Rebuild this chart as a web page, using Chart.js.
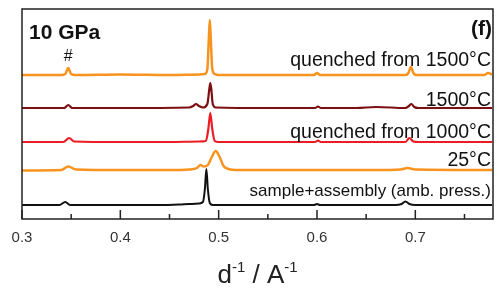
<!DOCTYPE html>
<html>
<head>
<meta charset="utf-8">
<script src="https://cdn.jsdelivr.net/npm/chart.js"></script>
<style>
  html, body { margin: 0; padding: 0; background: #fff; }
  #wrap { width: 497px; height: 290px; }
</style>
</head>
<body>
<div id="wrap"><canvas id="myChart" width="497" height="290"></canvas></div>
<script>
// d^-1 positions (1/A) and stacked intensities (offset already included)
const q1500X = [0.300, 0.340, 0.344, 0.347, 0.350, 0.354, 0.400, 0.450, 0.480, 0.486, 0.4885, 0.4900, 0.4910, 0.4920, 0.4935, 0.496, 0.500, 0.550, 0.597, 0.600, 0.603, 0.650, 0.690, 0.693, 0.6955, 0.698, 0.701, 0.740, 0.770, 0.774, 0.778];
const q1500Y = [144, 144, 145, 151, 145, 144, 144.5, 144, 144.5, 145, 150, 180, 199, 180, 150, 145, 144, 144, 144, 146, 144, 144, 144, 146, 152, 146, 144, 144, 144, 146, 144.5];

const t1500X = [0.300, 0.343, 0.347, 0.351, 0.400, 0.470, 0.474, 0.477, 0.480, 0.484, 0.4885, 0.4905, 0.4915, 0.4925, 0.494, 0.497, 0.550, 0.598, 0.601, 0.604, 0.640, 0.660, 0.690, 0.6935, 0.696, 0.699, 0.703, 0.778];
const t1500Y = [111, 111, 114, 111, 111, 111.5, 113, 115, 113, 111.5, 115, 130, 136, 130, 115, 111.5, 111, 111, 112.5, 111, 111, 112, 111, 113, 115, 112, 111, 111];

const q1000X = [0.300, 0.342, 0.348, 0.353, 0.400, 0.450, 0.480, 0.487, 0.4895, 0.4915, 0.4935, 0.496, 0.500, 0.598, 0.601, 0.604, 0.660, 0.690, 0.694, 0.698, 0.703, 0.778];
const q1000Y = [77, 77, 81, 77.5, 77, 77, 77.5, 78, 90, 106, 90, 78, 77, 77, 78.5, 77, 77, 77, 81, 77.5, 77, 77];

const t25X = [0.300, 0.340, 0.347, 0.355, 0.400, 0.450, 0.470, 0.478, 0.4815, 0.485, 0.489, 0.493, 0.497, 0.501, 0.505, 0.510, 0.520, 0.600, 0.660, 0.685, 0.692, 0.700, 0.778];
const t25Y = [48.5, 49, 52.5, 49.5, 49, 49, 49.5, 51, 54, 52.5, 54, 62, 68, 62, 53, 50, 49, 49, 49, 49.5, 51, 49.5, 49];

const ambX = [0.300, 0.338, 0.344, 0.349, 0.400, 0.440, 0.460, 0.470, 0.480, 0.484, 0.486, 0.4875, 0.489, 0.491, 0.494, 0.550, 0.597, 0.600, 0.603, 0.680, 0.686, 0.690, 0.694, 0.700, 0.778];
const ambY = [14, 14, 17, 14, 14, 14, 14.5, 15, 15.5, 17, 30, 50, 30, 16, 14, 14, 14, 15, 14, 14, 15, 17.5, 15, 14, 14];

const seriesNames = ['quenched from 1500°C', '1500°C', 'quenched from 1000°C', '25°C', 'sample+assembly (amb. press.)'];
const majorTicks = [0.3, 0.4, 0.5, 0.6, 0.7];
const minorTicks = [0.35, 0.45, 0.55, 0.65, 0.75];

function pts(xs, ys) { return xs.map((x, i) => ({x: x, y: ys[i]})); }

const datasets = [
  {label: seriesNames[0], data: pts(q1500X, q1500Y), borderColor: '#f7931e', borderWidth: 2.5},
  {label: seriesNames[1], data: pts(t1500X, t1500Y), borderColor: '#7d0f12', borderWidth: 2.2},
  {label: seriesNames[2], data: pts(q1000X, q1000Y), borderColor: '#ec1c24', borderWidth: 2.2},
  {label: seriesNames[3], data: pts(t25X, t25Y), borderColor: '#f7931e', borderWidth: 2.5},
  {label: seriesNames[4], data: pts(ambX, ambY), borderColor: '#111111', borderWidth: 2}
];
datasets.forEach(d => { d.pointRadius = 0; d.fill = false; d.cubicInterpolationMode = 'monotone'; });

// labels placed next to each trace: [text, baseline y, font]
const traceLabels = [
  [seriesNames[0], 66, '19.5px "Liberation Sans", Arial, sans-serif'],
  [seriesNames[1], 106, '19.5px "Liberation Sans", Arial, sans-serif'],
  [seriesNames[2], 138, '19.5px "Liberation Sans", Arial, sans-serif'],
  [seriesNames[3], 166, '19.5px "Liberation Sans", Arial, sans-serif'],
  [seriesNames[4], 196, '17px "Liberation Sans", Arial, sans-serif']
];

const decor = {
  id: 'decor',
  afterDraw(chart) {
    const ctx = chart.ctx, a = chart.chartArea, xs = chart.scales.x;
    ctx.save();
    // frame
    ctx.strokeStyle = '#222';
    ctx.lineWidth = 1.5;
    ctx.strokeRect(a.left, a.top, a.right - a.left, a.bottom - a.top);
    // inward ticks
    ctx.beginPath();
    majorTicks.forEach(v => { const px = xs.getPixelForValue(v); ctx.moveTo(px, a.bottom); ctx.lineTo(px, a.bottom - 9); });
    minorTicks.forEach(v => { const px = xs.getPixelForValue(v); ctx.moveTo(px, a.bottom); ctx.lineTo(px, a.bottom - 5); });
    ctx.stroke();

    ctx.fillStyle = '#111';
    ctx.textBaseline = 'alphabetic';
    ctx.textAlign = 'left';
    ctx.font = 'bold 21px "Liberation Sans", Arial, sans-serif';
    ctx.fillText('10 GPa', 29, 39);
    ctx.textAlign = 'right';
    ctx.fillText('(f)', 492, 35);
    ctx.font = '16px "Liberation Sans", Arial, sans-serif';
    ctx.textAlign = 'center';
    ctx.fillText('#', xs.getPixelForValue(0.347), 61);

    ctx.textAlign = 'right';
    traceLabels.forEach(t => { ctx.font = t[2]; ctx.fillText(t[0], 491, t[1]); });

    // axis title d^-1 / A^-1
    const big = '26px "Liberation Sans", Arial, sans-serif';
    const small = '15px "Liberation Sans", Arial, sans-serif';
    const parts = [['d', big, 0], ['-1', small, -11], [' / A', big, 0], ['-1', small, -11]];
    let w = 0;
    parts.forEach(p => { ctx.font = p[1]; w += ctx.measureText(p[0]).width; });
    let x = (a.left + a.right) / 2 - w / 2;
    const base = 283;
    ctx.textAlign = 'left';
    ctx.fillStyle = '#222';
    parts.forEach(p => { ctx.font = p[1]; ctx.fillText(p[0], x, base + p[2]); x += ctx.measureText(p[0]).width; });
    ctx.restore();
  }
};

new Chart(document.getElementById('myChart'), {
  type: 'line',
  data: { datasets: datasets },
  options: {
    responsive: false,
    animation: false,
    layout: { padding: { left: 22, right: 4, top: 9, bottom: 33 } },
    plugins: { legend: { display: false }, tooltip: { enabled: false } },
    scales: {
      x: {
        type: 'linear', min: 0.3, max: 0.779,
        border: { display: false },
        grid: { display: false, drawTicks: false },
        afterBuildTicks: s => { s.ticks = majorTicks.map(v => ({value: v})); },
        ticks: {
          padding: 10, color: '#333',
          font: { size: 15, family: '"Liberation Sans", Arial, sans-serif' },
          callback: v => v.toFixed(1),
          maxRotation: 0
        }
      },
      y: { display: false, min: 0, max: 210 }
    }
  },
  plugins: [decor]
});
</script>
</body>
</html>
